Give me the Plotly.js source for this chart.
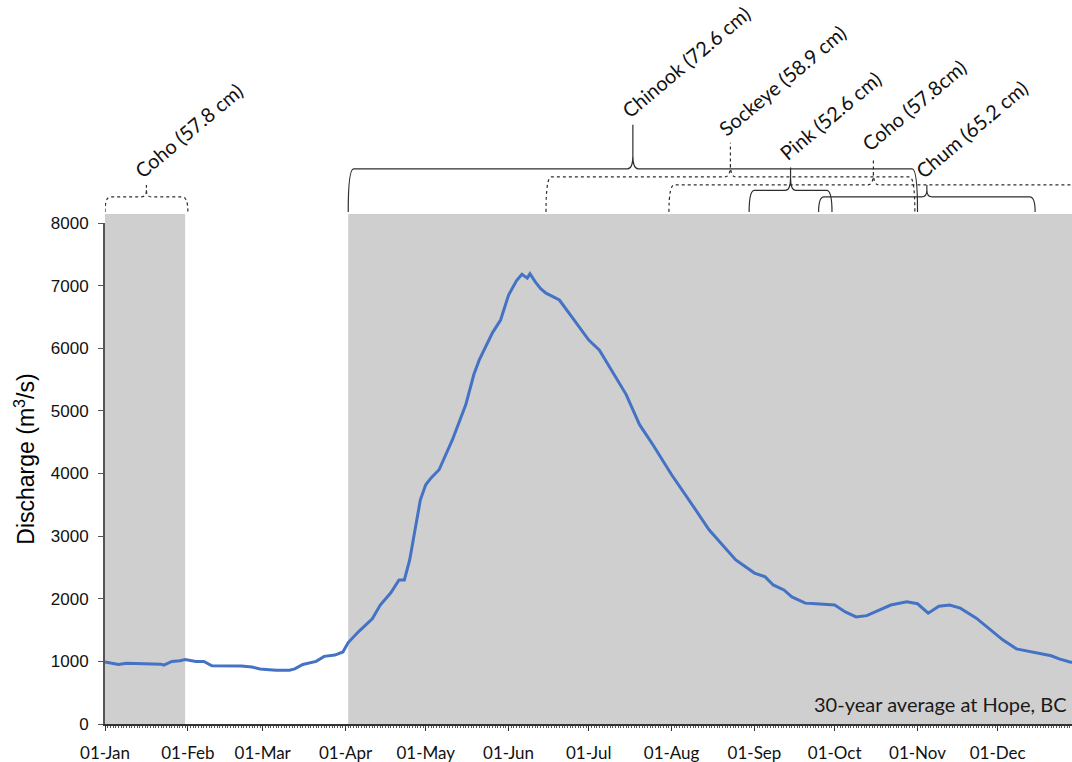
<!DOCTYPE html>
<html><head><meta charset="utf-8">
<script src="https://cdn.plot.ly/plotly-3.0.1.min.js"></script>
<style>html,body{margin:0;padding:0;background:#fff}#chart{width:1072px;height:762px}</style>
</head><body><div id="chart"></div>
<script>
// ---- data (day of year, 0 = 01-Jan) ----
const dayOfYear = [0,3,5,8,13,17,21,22,25,28,30,34,37,40,45,51,55,58,64,69,71,74,79,82,86,89,91,95,100,103,107,110,112,114,116,118,120,122,125,130,135,138,140,145,148,151,154,156,158,159,161,163,165,170,175,181,185,190,195,200,205,212,216,221,226,231,236,243,247,250,254,257,262,266,273,277,281,285,289,294,300,304,308,312,316,320,326,330,336,341,347,354,357,361,364];
const discharge = [990,970,950,970,965,960,955,940,1000,1010,1030,1000,1000,930,930,925,910,880,860,860,880,950,1000,1080,1100,1150,1300,1480,1680,1900,2100,2300,2300,2620,3100,3580,3820,3930,4060,4540,5100,5580,5810,6250,6450,6850,7080,7180,7120,7190,7060,6950,6880,6770,6480,6130,5970,5620,5260,4780,4460,3980,3740,3420,3100,2860,2620,2410,2350,2220,2140,2030,1930,1920,1900,1790,1710,1730,1800,1900,1950,1920,1770,1880,1900,1850,1690,1550,1340,1200,1150,1090,1040,990,980];

const monthTickDays = [0,31,59,90,120,151,181,212,243,273,304,334];
const monthTickLabels = ["01-Jan","01-Feb","01-Mar","01-Apr","01-May","01-Jun","01-Jul","01-Aug","01-Sep","01-Oct","01-Nov","01-Dec"];

const shadeStartDay = [0, 91];
const shadeEndDay = [30, 366];

const runLabels = ["Coho (57.8 cm)","Chinook (72.6 cm)","Sockeye (58.9 cm)","Pink (52.6 cm)","Coho (57.8cm)","Chum (65.2 cm)"];
const runStartDay = [0, 91, 165, 241, 211, 267];
const runEndDay   = [31, 304, 303, 272, 364, 348];

const bottomNote = "30-year average at Hope, BC";

// ---- styling (positions of the braces above the plot, paper units) ----
const braceBase = 1.022;
const braceLevel = [1.052, 1.108, 1.092, 1.065, 1.076, 1.052];
const braceTip   = [1.076, 1.196, 1.160, 1.111, 1.129, 1.076];
const braceDash  = ["dot","solid","dot","solid","dot","solid"];

const shapes = [];
for (let i = 0; i < shadeStartDay.length; i++) {
  shapes.push({type:'rect', xref:'x', yref:'paper', x0:shadeStartDay[i], x1:shadeEndDay[i], y0:0, y1:1.018,
    fillcolor:'#d0cfd0', line:{width:0}, layer:'below'});
}
const r = 2; // days
for (let i = 0; i < runLabels.length; i++) {
  const x0 = runStartDay[i], x1 = runEndDay[i], xm = (x0 + x1) / 2;
  const yb = braceBase, yh = braceLevel[i], yt = braceTip[i];
  const k = Math.min(0.026, (yt - yh) * 0.55);
  const p = `M${x0},${yb} Q${x0},${yh} ${x0+r},${yh} L${xm-r},${yh} Q${xm},${yh} ${xm},${yh+k} L${xm},${yt} ` +
            `M${xm},${yh+k} Q${xm},${yh} ${xm+r},${yh} L${x1-r},${yh} Q${x1},${yh} ${x1},${yb}`;
  shapes.push({type:'path', xref:'x', yref:'paper', path:p, layer:'above',
    line:{color:'#2e2e2e', width:1.2, dash:braceDash[i]}});
}

const annotations = runLabels.map((t, i) => ({
  text: t, xref:'x', yref:'paper', x:(runStartDay[i]+runEndDay[i])/2, y:braceTip[i],
  xanchor:'left', yanchor:'bottom', textangle:-40, showarrow:false, xshift:-19, yshift:0,
  font:{family:'Lato, sans-serif', size:20, color:'#111'}
}));
annotations.push({text: bottomNote, xref:'paper', yref:'paper', x:0.997, y:0.04, xanchor:'right', yanchor:'middle',
  showarrow:false, font:{family:'Lato, sans-serif', size:20, color:'#1a1a1a'}});
annotations.push({text:'Discharge (m<sup>3</sup>/s)', xref:'paper', yref:'paper', x:-0.083, y:0.529,
  xanchor:'center', yanchor:'middle', textangle:-90, showarrow:false,
  font:{family:'Liberation Sans, Arial, sans-serif', size:23, color:'#000'}});

const trace = {x: dayOfYear, y: discharge, type:'scatter', mode:'lines',
  line:{color:'#4472C4', width:3}, hoverinfo:'skip'};

const layout = {
  width:1072, height:762,
  margin:{l:105, r:0, t:223, b:38},
  paper_bgcolor:'#fff', plot_bgcolor:'#fff',
  showlegend:false,
  xaxis:{range:[0,361.8], tickmode:'array', tickvals:monthTickDays, ticktext:monthTickLabels,
    showgrid:false, zeroline:false, showline:true, linecolor:'#333', linewidth:1.5,
    ticks:'outside', ticklen:5, tickcolor:'#333', tickwidth:1, ticklabelstandoff:8,
    tickfont:{family:'Lato, sans-serif', size:17, color:'#111'},
    minor:{ticks:'outside', ticklen:2, tickwidth:1, tickcolor:'#555', tickmode:'linear', tick0:0, dtick:1, showgrid:false}},
  yaxis:{range:[0,8000], tickmode:'linear', tick0:0, dtick:1000, showgrid:false, zeroline:false,
    showline:true, linecolor:'#555', linewidth:2, ticks:'outside', ticklen:5, tickcolor:'#555',
    ticklabelstandoff:6,
    tickfont:{family:'Liberation Sans, Arial, sans-serif', size:17, color:'#111'}},
  shapes: shapes,
  annotations: annotations
};
Plotly.newPlot('chart', [trace], layout, {staticPlot:true});
</script></body></html>
